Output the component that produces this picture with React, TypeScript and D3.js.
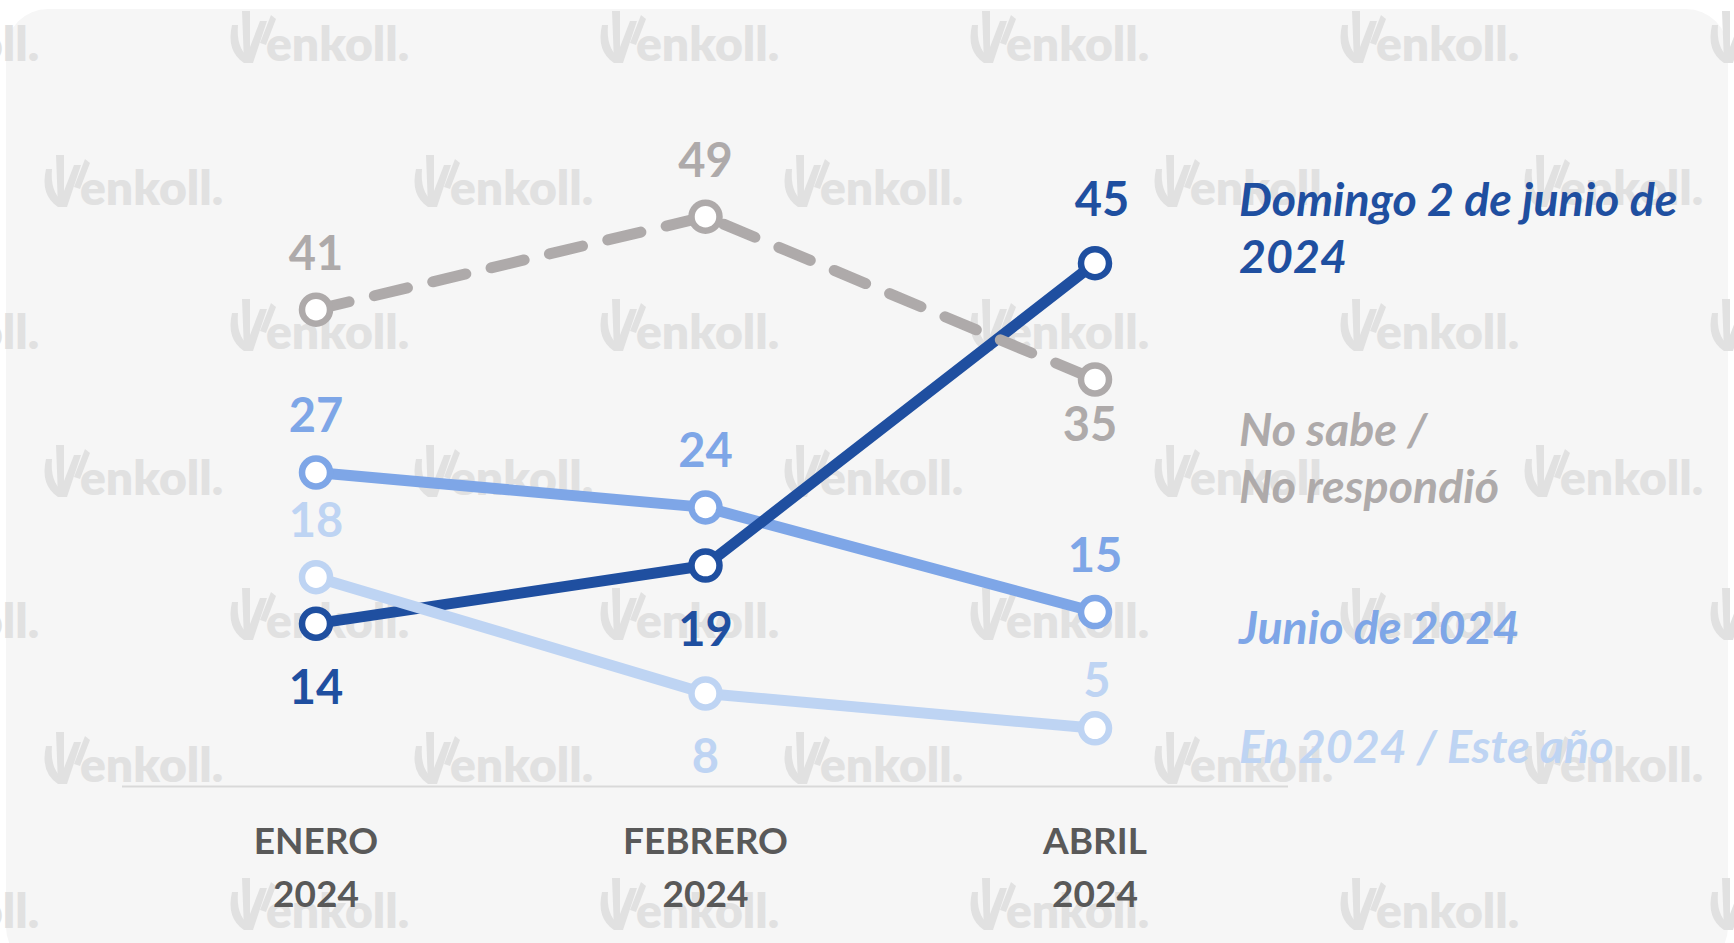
import React from "react";
import * as d3 from "d3";

const categories = ["ENERO 2024", "FEBRERO 2024", "ABRIL 2024"];
const seriesNames = ["Junio de 2024", "Domingo 2 de junio de 2024", "En 2024 / Este año", "No sabe / No respondió"];
const junioValues = [27, 24, 15];
const domingoValues = [14, 19, 45];
const en2024Values = [18, 8, 5];
const noSabeValues = [41, 49, 35];
const junioPlacement = ["above", "above", "above"];
const domingoPlacement = ["below", "below", "aboveFar"];
const en2024Placement = ["above", "below", "aboveNear"];
const noSabePlacement = ["above", "above", "belowNear"];
const legendLines = [
  ["Domingo 2 de junio de", "2024"],
  ["No sabe /", "No respondió"],
  ["Junio de 2024"],
  ["En 2024 / Este año"],
];

const W = 1734;
const H = 943;
const FONT = "Lato, 'Open Sans', sans-serif";

const C_DARK = "#1f4fa0";
const C_MED = "#7ea6e7";
const C_LIGHT = "#bed4f3";
const C_GRAY = "#aeaaaa";

const placementOffsets: Record<string, { dx: number; dy: number }> = {
  above: { dx: 0, dy: -40 },
  aboveFar: { dx: 7, dy: -47 },
  aboveNear: { dx: 2, dy: -31 },
  below: { dx: 0, dy: 80 },
  belowNear: { dx: -5, dy: 62 },
};

const series = [
  { name: seriesNames[0], values: junioValues, placement: junioPlacement, color: C_MED, dash: null },
  { name: seriesNames[1], values: domingoValues, placement: domingoPlacement, color: C_DARK, dash: null },
  { name: seriesNames[2], values: en2024Values, placement: en2024Placement, color: C_LIGHT, dash: null },
  { name: seriesNames[3], values: noSabeValues, placement: noSabePlacement, color: C_GRAY, dash: "34 26" },
];

const legendColors = [C_DARK, C_GRAY, C_MED, C_LIGHT];
const legendBaselines = [216, 446, 644, 763];

function Watermark({ x, y }: { x: number; y: number }) {
  const col = "#e1e1e1";
  return (
    <g transform={`translate(${x},${y})`} fill={col}>
      <path d="M2,-36 Q-4,-10 14,2 L18,-4 Q6,-14 8,-36 Z" />
      <path d="M12,-50 L20,-50 L20,-14 L30,-40 L37,-40 L23,2 L14,2 Z" />
      <path d="M30,-18 L41,-46 L46,-42 L36,-16 Z" />
      <text x={36} y={0} fontFamily={FONT} fontWeight={800} fontSize={48} fill={col}>
        enkoll.
      </text>
    </g>
  );
}

export default function App() {
  const x = d3.scalePoint<string>().domain(categories).range([316, 1095]);
  const y = d3.scaleLinear().domain([0, 50]).range([786.5, 786.5 - 50 * 11.63]);
  const line = d3
    .line<number>()
    .x((_, i) => x(categories[i]) as number)
    .y((d) => y(d));

  const wmRowsY = [61, 205, 349, 495, 638, 782, 928];
  const marks: { x: number; y: number }[] = [];
  wmRowsY.forEach((ry, r) => {
    const start = r % 2 === 0 ? 230 - 370 : 44;
    for (let k = 0; k < 6; k++) marks.push({ x: start + k * 370, y: ry });
  });

  return (
    <svg
      width={W}
      height={H}
      style={{ position: "absolute", left: 0, top: 0, display: "block" }}
      xmlns="http://www.w3.org/2000/svg"
    >
      <rect x={0} y={0} width={W} height={H} fill="#ffffff" />
      <rect x={6} y={9} width={1722} height={960} rx={42} ry={42} fill="#f6f6f6" />
      {marks.map((m, i) => (
        <Watermark key={i} x={m.x} y={m.y} />
      ))}
      <line x1={122} x2={1288} y1={y(0)} y2={y(0)} stroke="#d9d9d9" strokeWidth={2} />
      {categories.map((c) => {
        const [a, b] = c.split(" ");
        return (
          <text
            key={c}
            x={x(c)}
            textAnchor="middle"
            fontFamily={FONT}
            fontWeight={700}
            fontSize={37}
            fill="#595959"
          >
            <tspan x={x(c)} y={854}>{a}</tspan>
            <tspan x={x(c)} y={907}>{b}</tspan>
          </text>
        );
      })}
      {series.map((s) => (
        <g key={s.name}>
          <path
            d={line(s.values) || ""}
            fill="none"
            stroke={s.color}
            strokeWidth={11}
            strokeDasharray={s.dash || undefined}
            strokeLinecap="round"
            strokeLinejoin="round"
          />
          {s.values.map((v, i) => (
            <circle
              key={i}
              cx={x(categories[i])}
              cy={y(v)}
              r={14}
              fill="#ffffff"
              stroke={s.color}
              strokeWidth={6.5}
            />
          ))}
          {s.values.map((v, i) => {
            const off = placementOffsets[s.placement[i]];
            return (
              <text
                key={"t" + i}
                x={(x(categories[i]) as number) + off.dx}
                y={y(v) + off.dy}
                textAnchor="middle"
                fontFamily={FONT}
                fontWeight={700}
                fontSize={47}
                fill={s.color}
              >
                {v}
              </text>
            );
          })}
        </g>
      ))}
      {legendLines.map((lines, i) => (
        <text
          key={i}
          fontFamily={FONT}
          fontWeight={700}
          fontStyle="italic"
          fontSize={46.5}
          fill={legendColors[i]}
        >
          {lines.map((l, j) => (
            <tspan key={j} x={1239} y={legendBaselines[i] + j * 57}>
              {l}
            </tspan>
          ))}
        </text>
      ))}
    </svg>
  );
}
